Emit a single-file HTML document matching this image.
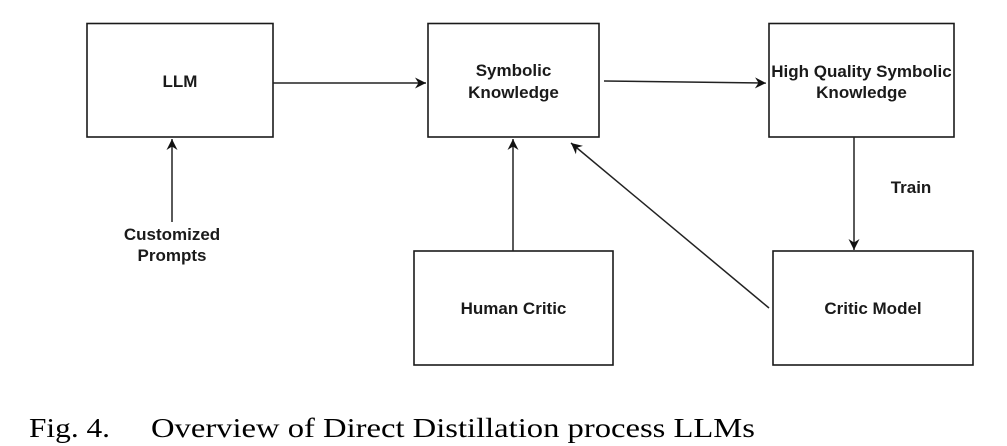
<!DOCTYPE html>
<html>
<head>
<meta charset="utf-8">
<style>
  html, body { margin: 0; padding: 0; background: #fff; }
  body { width: 1007px; height: 446px; overflow: hidden; }
  svg { display: block; }
  .lbl { font-family: "Liberation Sans", Arial, sans-serif; font-weight: bold; font-size: 17px; fill: #1a1a1a; }
  .cap { font-family: "Liberation Serif", "Times New Roman", serif; font-size: 27.5px; fill: #000; }
</style>
</head>
<body>
<svg width="1007" height="446" viewBox="0 0 1007 446" xmlns="http://www.w3.org/2000/svg">
  <defs>
    <marker id="ah" markerUnits="userSpaceOnUse" markerWidth="12" markerHeight="12" refX="11" refY="6" orient="auto">
      <path d="M0,0.5 L11,6 L0,11.5 L3.5,6 Z" fill="#111"/>
    </marker>
  </defs>

  <!-- boxes -->
  <g fill="#fff" stroke="#1a1a1a" stroke-width="1.6">
    <rect x="87" y="23.5" width="186" height="113.5"/>
    <rect x="428" y="23.5" width="171" height="113.5"/>
    <rect x="769" y="23.5" width="185" height="113.5"/>
    <rect x="414" y="251" width="199" height="114"/>
    <rect x="773" y="251" width="200" height="114"/>
  </g>

  <!-- connectors -->
  <g stroke="#222" stroke-width="1.5" fill="none">
    <line x1="273" y1="83" x2="426" y2="83" marker-end="url(#ah)"/>
    <line x1="604" y1="81" x2="766" y2="83" marker-end="url(#ah)"/>
    <line x1="172" y1="222" x2="172" y2="139" marker-end="url(#ah)"/>
    <line x1="513" y1="251" x2="513" y2="139" marker-end="url(#ah)"/>
    <line x1="854" y1="137" x2="854" y2="250" marker-end="url(#ah)"/>
    <line x1="769" y1="308" x2="571" y2="143" marker-end="url(#ah)"/>
  </g>

  <!-- labels -->
  <g class="lbl" text-anchor="middle">
    <text x="180" y="87">LLM</text>
    <text x="513.5" y="76">Symbolic</text>
    <text x="513.5" y="98">Knowledge</text>
    <text x="861.5" y="77">High Quality Symbolic</text>
    <text x="861.5" y="98">Knowledge</text>
    <text x="911" y="193">Train</text>
    <text x="172" y="240">Customized</text>
    <text x="172" y="261">Prompts</text>
    <text x="513.5" y="314">Human Critic</text>
    <text x="873" y="314">Critic Model</text>
  </g>

  <!-- caption -->
  <g class="cap">
    <text x="29" y="437" textLength="81" lengthAdjust="spacingAndGlyphs">Fig. 4.</text>
    <text x="151" y="437" textLength="604" lengthAdjust="spacingAndGlyphs">Overview of Direct Distillation process LLMs</text>
  </g>
</svg>
</body>
</html>
